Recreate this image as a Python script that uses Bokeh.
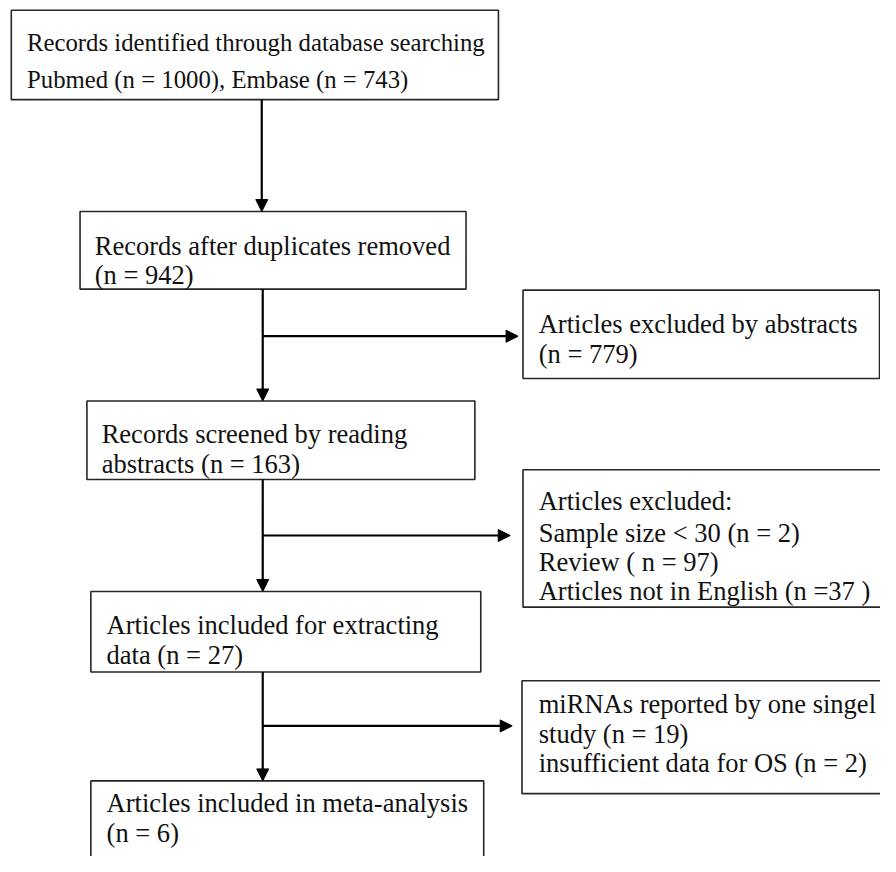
from bokeh.plotting import figure
from bokeh.models import Range1d, Arrow, NormalHead, ColumnDataSource
from bokeh.core.properties import value, field
from bokeh.embed import file_html
from bokeh.resources import INLINE

# ---------------- content (flow-chart texts) ----------------
main_steps = [
    ["Records identified through database searching", "Pubmed (n = 1000), Embase (n = 743)"],
    ["Records after duplicates removed", "(n = 942)"],
    ["Records screened by reading", "abstracts (n = 163)"],
    ["Articles included for extracting", "data (n = 27)"],
    ["Articles included in meta-analysis", "(n = 6)"],
]
exclusions = [
    ["Articles excluded by abstracts", "(n = 779)"],
    ["Articles excluded:", "Sample size < 30 (n = 2)", "Review ( n = 97)", "Articles not in English (n =37 )"],
    ["miRNAs reported by one singel", "study (n = 19)", "insufficient data for OS (n = 2)"],
]

# ---------------- layout (reference pixel coordinates, 896 x 872) ----------------
REF_W, REF_H = 896, 872
W, H = 880, 856
S = W / REF_W  # scale for font sizes

main_left = [11, 81, 88, 92, 92]
main_top = [10, 215, 408, 602, 795]
main_right = [507, 474, 483, 489, 492]
main_bottom = [101, 294, 488, 684, 900]
main_text_x = [27, 96, 103, 108, 108]
main_base = [[43, 80], [250, 280], [442, 472], [636, 667], [818, 848]]
main_font = [25.2, 27, 27, 27, 27]

ex_left = [532, 532, 531]
ex_top = [295, 478, 693]
ex_right = [895, 905, 905]
ex_bottom = [385, 618, 808]
ex_text_x = [548, 548, 548]
ex_base = [[330, 360], [510, 542, 572, 602], [717, 747, 777]]
ex_font = [27, 27, 27]

spine_x = [266, 267, 267, 267]
branch_y = [342, 545, 739]
branch_tip = [527, 519, 521]

# ---------------- figure ----------------
p = figure(width=W, height=H, output_backend="svg", toolbar_location=None,
           x_range=Range1d(0, REF_W), y_range=Range1d(REF_H, 0),
           x_axis_location=None, y_axis_location=None, min_border=0)
p.grid.visible = False
p.outline_line_color = None
p.background_fill_color = "white"
p.border_fill_color = "white"

# boxes
lefts = main_left + ex_left
rights = main_right + ex_right
tops = main_top + ex_top
bottoms = main_bottom + ex_bottom
p.quad(left=lefts, right=rights, top=tops, bottom=bottoms,
       fill_color="white", line_color="#262626", line_width=1.6)

# texts
tx, ty, tt, tf = [], [], [], []
for lines, x0, bases, fs in zip(main_steps + exclusions,
                                main_text_x + ex_text_x,
                                main_base + ex_base,
                                main_font + ex_font):
    for line, b in zip(lines, bases):
        tx.append(x0); ty.append(b); tt.append(line); tf.append(f"{fs * S:.2f}px")
src = ColumnDataSource(dict(x=tx, y=ty, text=tt, fs=tf))
p.text(x="x", y="y", text="text", source=src, text_font=value("Liberation Serif"),
       text_font_size=field("fs"), text_color="#111111",
       text_align="left", text_baseline="alphabetic")

# arrows
xs, ys, xe, ye = [], [], [], []
for i in range(4):
    xs.append(spine_x[i]); ys.append(bottoms[i]); xe.append(spine_x[i]); ye.append(tops[i + 1])
for i in range(3):
    xs.append(spine_x[i + 1]); ys.append(branch_y[i]); xe.append(branch_tip[i]); ye.append(branch_y[i])
asrc = ColumnDataSource(dict(xs=xs, ys=ys, xe=xe, ye=ye))
p.add_layout(Arrow(end=NormalHead(size=12, fill_color="black", line_color="black", line_width=1),
                   x_start="xs", y_start="ys", x_end="xe", y_end="ye", source=asrc,
                   line_color="black", line_width=2.2))

open("out.html", "w").write(file_html(p, INLINE))
